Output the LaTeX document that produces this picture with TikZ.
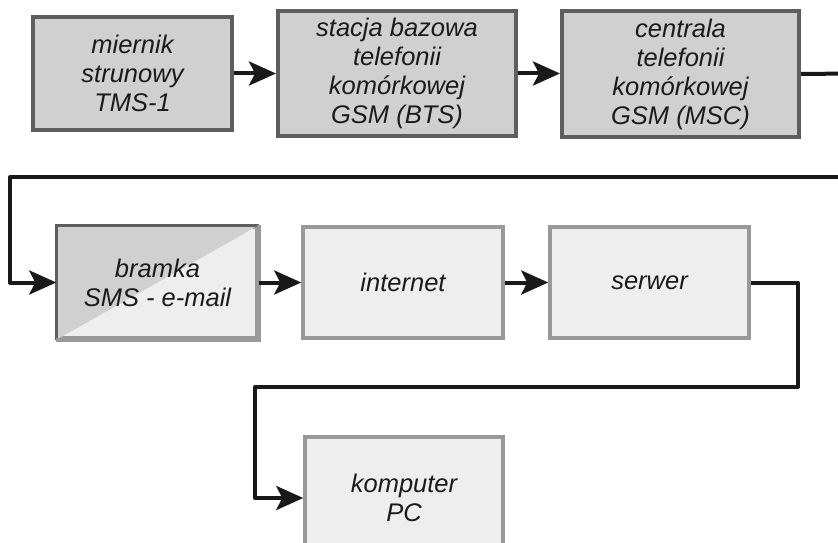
\documentclass[tikz,border=0pt]{standalone}
\usepackage{fontspec}
\setmainfont{Liberation Sans}
\usetikzlibrary{arrows.meta}
\definecolor{darkfill}{HTML}{D0D0D0}
\definecolor{darkedge}{HTML}{5E5E5E}
\definecolor{lightfill}{HTML}{EEEEEE}
\definecolor{lightedge}{HTML}{999999}
\definecolor{txt}{HTML}{1A1A1A}
\tikzset{
  boxfont/.style={font=\fontsize{25.5}{29}\selectfont\itshape},
  darkbox/.style={draw=darkedge, fill=darkfill, line width=4pt, inner sep=0pt,
    align=center, text=txt, boxfont},
  lightbox/.style={draw=lightedge, fill=lightfill, line width=3.5pt, inner sep=0pt,
    align=center, text=txt, boxfont},
  conn/.style={line width=4pt, black!90, line join=round,
    -{Stealth[length=27pt, width=24pt, inset=6pt]}},
  wire/.style={line width=4pt, black!90, line join=round},
}
\begin{document}
\begin{tikzpicture}[x=1pt,y=-1pt]
\useasboundingbox (0,0) rectangle (838,543);
\clip (0,0) rectangle (838,543);
\fill[white] (0,0) rectangle (838,543);
% top row
\node[darkbox, minimum width=199pt, minimum height=113pt] (tms) at (132.5,73.5) {miernik\\strunowy\\TMS-1};
\node[darkbox, minimum width=238pt, minimum height=125pt] (bts) at (397,73.5) {stacja bazowa\\telefonii\\komórkowej\\GSM (BTS)};
\node[darkbox, minimum width=237pt, minimum height=126pt] (msc) at (680.5,74) {centrala\\telefonii\\komórkowej\\GSM (MSC)};
% second row
\node[lightbox, minimum width=199pt, minimum height=111pt] (sms) at (157.5,282.5) {};
\fill[darkfill] (sms.north west) -- (sms.north east) -- (sms.south west) -- cycle;
\draw[darkedge, line width=3.5pt] (sms.south west) -- (sms.north west) -- (sms.north east);
\draw[lightedge, line width=3.5pt] (sms.north east) -- (sms.south east) -- (sms.south west);
\node[align=center, text=txt, boxfont] (smstext) at (sms.center) {bramka\\SMS - e-mail};
\node[lightbox, minimum width=200pt, minimum height=111pt] (inet) at (403,282.5) {internet};
\node[lightbox, minimum width=199pt, minimum height=111pt] (serw) at (649.5,282.5) {serwer};
% third row
\node[lightbox, minimum width=198pt, minimum height=122pt] (pc) at (404,498) {komputer\\PC};
% connectors
\coordinate (r1) at (850,73.5);
\coordinate (r2) at (850,177);
\coordinate (l1) at (10,177);
\coordinate (s1) at (798,387);
\coordinate (s2) at (255,387);
\draw[conn] (tms.east) -- (bts.west |- tms.east);
\draw[conn] (bts.east) -- (msc.west |- bts.east);
\draw[wire] (msc.east) -- (r1);
\draw[conn] (r2) -- (l1) |- (sms.west);
\draw[conn] (sms.east) -- (inet.west);
\draw[conn] (inet.east) -- (serw.west);
\draw[conn] (serw.east) -| (s1) -- (s2) |- (pc.west);
\end{tikzpicture}
\end{document}
